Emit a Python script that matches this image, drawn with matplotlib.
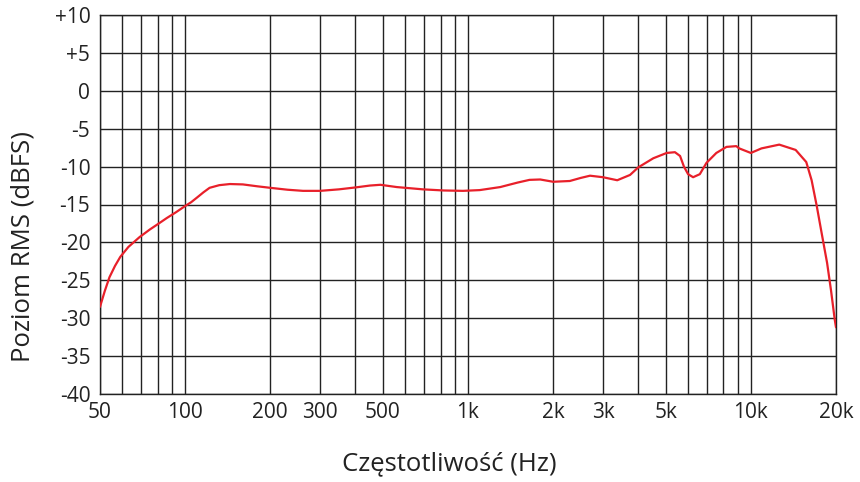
import matplotlib
matplotlib.use("Agg")
from matplotlib import pyplot as plt
from matplotlib.ticker import FixedLocator, NullFormatter

plt.rcParams['font.family'] = ['Open Sans', 'DejaVu Sans']

# frequency response
freq = [50, 52, 54, 56.5, 59, 63, 69, 75, 80, 86, 93, 100, 105, 110, 116, 122,
        132, 144, 160, 180, 200, 230, 261, 300, 350, 400, 450, 490, 560, 692,
        820, 960, 1100, 1300, 1500, 1650, 1800, 2000, 2290, 2500, 2700, 3000,
        3370, 3740, 4000, 4520, 5040, 5390, 5620, 5800, 6000, 6250, 6600,
        6970, 7550, 8200, 8880, 9100, 10000, 10900, 12600, 14400, 15700,
        16400, 17100, 17800, 18600, 19200, 19800, 20000]
level = [-28.5, -26.4, -24.6, -23.1, -21.9, -20.6, -19.3, -18.3, -17.6, -16.8,
         -16.0, -15.2, -14.7, -14.1, -13.4, -12.8, -12.45, -12.3, -12.35,
         -12.6, -12.8, -13.05, -13.2, -13.2, -13.0, -12.75, -12.5, -12.4,
         -12.7, -13.0, -13.15, -13.2, -13.1, -12.7, -12.1, -11.75, -11.7,
         -12.0, -11.9, -11.5, -11.2, -11.4, -11.8, -11.1, -10.1, -8.9, -8.2,
         -8.1, -8.6, -10.0, -11.0, -11.4, -11.0, -9.5, -8.2, -7.4, -7.3,
         -7.6, -8.2, -7.6, -7.1, -7.8, -9.4, -11.8, -15.2, -18.8, -22.7,
         -26.3, -30.2, -31.2]

x_ticks = [50, 100, 200, 300, 500, 1000, 2000, 3000, 5000, 10000, 20000]
x_labels = ['50', '100', '200', '300', '500', '1k', '2k', '3k', '5k', '10k', '20k']
x_grid = [50, 60, 70, 80, 90, 100, 200, 300, 400, 500, 600, 700, 800, 900,
          1000, 2000, 3000, 4000, 5000, 6000, 7000, 8000, 9000, 10000, 20000]
y_ticks = [-40, -35, -30, -25, -20, -15, -10, -5, 0, 5, 10]
y_labels = ['-40', '-35', '-30', '-25', '-20', '-15', '-10', '-5', '0', '+5', '+10']

fig = plt.figure(figsize=(8.6, 4.82), dpi=100)
ax = fig.add_axes([100 / 860, 1 - 394 / 482, 736 / 860, 379 / 482])

ax.set_xscale('log')
ax.set_xlim(50, 20000)
ax.set_ylim(-40, 10)

# grid lines drawn by hand so every decade step is visible
for xv in x_grid:
    ax.axvline(xv, color='#222222', lw=1.0, zorder=1)
for yv in y_ticks:
    ax.axhline(yv, color='#222222', lw=1.0, zorder=1)

ax.plot(freq, level, color='#e8202a', lw=1.6, zorder=3,
        solid_capstyle='round', solid_joinstyle='round')

ax.xaxis.set_major_locator(FixedLocator(x_ticks))
ax.set_xticklabels(x_labels)
ax.xaxis.set_minor_locator(FixedLocator([]))
ax.xaxis.set_minor_formatter(NullFormatter())
ax.set_yticks(y_ticks)
ax.set_yticklabels(y_labels)
ax.tick_params(axis='both', length=0, labelsize=15, colors='#222222')
ax.tick_params(axis='y', pad=7)
ax.tick_params(axis='x', pad=6)

for s in ax.spines.values():
    s.set_color('#222222')
    s.set_linewidth(1.0)

ax.set_xlabel('Częstotliwość (Hz)', fontsize=18.5, color='#222222')
ax.set_ylabel('Poziom RMS (dBFS)', fontsize=18.5, color='#222222')
ax.xaxis.set_label_coords(0.474, -0.15)
ax.yaxis.set_label_coords(-0.087, 0.388)

fig.savefig('out.png', dpi=100)
